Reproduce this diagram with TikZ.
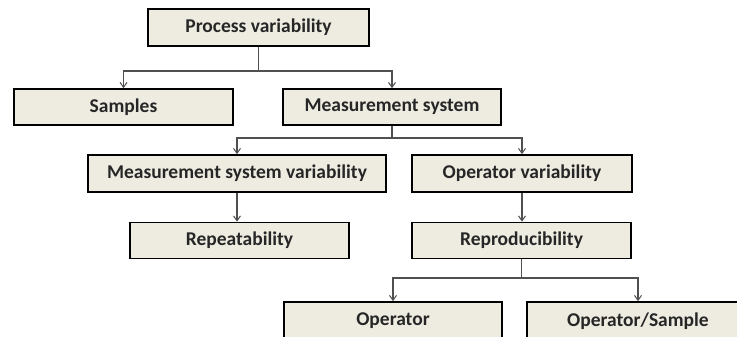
\documentclass[tikz,border=0pt]{standalone}
\usepackage{fontspec}
\setmainfont{Carlito}
\usetikzlibrary{arrows.meta}
\definecolor{boxfill}{HTML}{EEECE1}
\definecolor{conn}{HTML}{505050}
\tikzset{
  bx/.style={draw=black, line width=1.6pt, fill=boxfill, inner sep=0pt,
    font=\fontsize{19.5}{22}\selectfont\bfseries, text=black!85},
  cn/.style={draw=conn, line width=1.1pt, -{Straight Barb[length=5pt,width=7pt,line width=1pt]}},
  ln/.style={draw=conn, line width=1.1pt}
}
\begin{document}
\begin{tikzpicture}[x=1pt,y=-1pt]
\useasboundingbox (0,0) rectangle (737,337);
\clip (0,0) rectangle (737,337);
\node[bx, minimum width=221pt, minimum height=37pt] (pv) at (258.5,27.5) {Process variability};
\node[bx, minimum width=219pt, minimum height=36pt] (sa) at (123.5,107) {Samples};
\node[bx, minimum width=218pt, minimum height=36pt] (ms) at (392,107) {Measurement system};
\node[bx, minimum width=298pt, minimum height=37pt] (msv) at (237,173.5) {Measurement system variability};
\node[bx, minimum width=220pt, minimum height=37pt] (ov) at (522,173.5) {Operator variability};
\node[bx, minimum width=219pt, minimum height=36pt] (rep) at (239.5,240.5) {Repeatability};
\node[bx, minimum width=219pt, minimum height=36pt] (rpr) at (521.5,240.5) {Reproducibility};
\node[bx, minimum width=218pt, minimum height=38pt] (op) at (393,321) {Operator};
\node[bx, minimum width=222pt, minimum height=38pt] (ops) at (638,321) {Operator/Sample};
\coordinate (j1) at (258.5,71);
\coordinate (j2) at (392,138);
\coordinate (j3) at (521.5,278);
\draw[ln] (pv.south) -- (j1);
\draw[cn] (j1) -| (sa.north);
\draw[cn] (j1) -| (ms.north);
\draw[ln] (ms.south) -- (j2);
\draw[cn] (j2) -| (msv.north);
\draw[cn] (j2) -| (ov.north);
\draw[cn] (msv.south) -- (rep.north -| msv.south);
\draw[cn] (ov.south) -- (rpr.north -| ov.south);
\draw[ln] (rpr.south) -- (j3);
\draw[cn] (j3) -| (op.north);
\draw[cn] (j3) -| (ops.north);
\end{tikzpicture}
\end{document}
